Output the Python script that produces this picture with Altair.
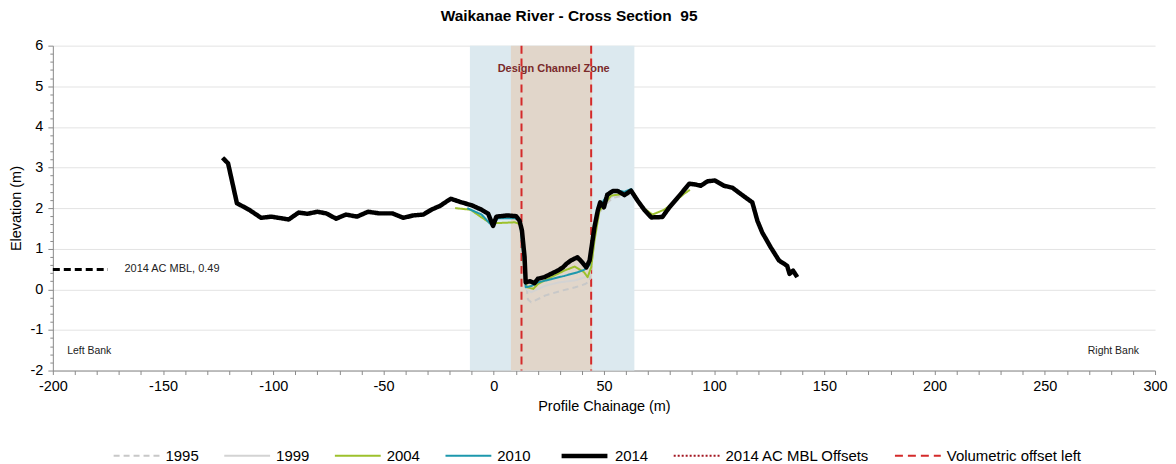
import altair as alt
import pandas as pd

FONT = "Liberation Sans"

# ---------------- data ----------------
series_names = ["1995", "1999", "2004", "2010", "2014",
                "2014 AC MBL Offsets", "Volumetric offset left"]
series_colors = ["#c8c8c8", "#d3d3d3", "#9dc12c", "#1d98ad", "#000000",
                 "#a31621", "#d42a2a"]
series_dash = [[6, 4], [1, 0], [1, 0], [1, 0], [1, 0], [2, 2], [8, 5]]
series_width = [2, 2, 2, 2, 4.5, 2, 2]

x1995 = [12.5, 14, 15.5, 17, 23.5, 31, 37, 41.5, 43.5, 45, 47, 50, 54, 58, 62]
y1995 = [1.5, 0.6, -0.25, -0.32, -0.15, -0.03, 0.05, 0.13, 0.2, 0.9, 1.8, 2.05, 2.25, 2.3, 2.35]

x1999 = [12.5, 14, 15, 17, 23.5, 29.5, 37, 41.5, 43.5, 45, 47, 50, 54, 58, 62]
y1999 = [1.55, 0.8, 0.0, -0.07, 0.09, 0.17, 0.22, 0.30, 0.35, 1.0, 1.85, 2.1, 2.3, 2.35, 2.38]

x2004 = [-17.5, -10.5, -5.5, -1, 1.2, 9.5, 11.7, 12.8, 13.8, 15, 18, 20, 26, 32, 36.7,
         41, 42.6, 44.2, 45.7, 48, 50.3, 53.3, 59.3, 63, 67.6, 72, 77.3, 81.8, 86.3, 89]
y2004 = [2.0, 1.96, 1.77, 1.61, 1.63, 1.65, 1.61, 1.36, 0.54, 0.05, 0.01, 0.13, 0.30, 0.46, 0.56,
         0.42, 0.30, 0.54, 1.2, 1.94, 2.10, 2.31, 2.35, 2.41, 2.02, 1.84, 1.96, 2.14, 2.35, 2.45]

x2010 = [-12, -5.5, -1, 2, 9.5, 11.7, 12.3, 13.8, 14.5, 17, 20, 26, 32, 38, 41, 43.5,
         44.6, 47.2, 50, 53.3, 56.3, 59.3, 62.3, 65.3, 68.4, 71.5, 74]
y2010 = [2.0, 1.84, 1.58, 1.75, 1.75, 1.70, 1.45, 0.6, 0.05, 0.08, 0.17, 0.25, 0.33, 0.42, 0.48, 0.6,
         1.2, 1.94, 2.2, 2.39, 2.43, 2.40, 2.47, 2.18, 1.96, 1.79, 1.79]

x2014 = [-123, -120.5, -116.5, -111, -105.5, -101, -93, -88.5, -84.5, -80, -76, -71.5, -67,
         -62, -57, -52, -46, -41, -36.5, -32, -28, -24.5, -19.5, -14.5, -10, -5.5, -2.5,
         -0.3, 1.2, 6.4, 10.2, 11.7, 12.8, 14.0, 14.5, 16.5, 18.5, 20, 23, 26, 29, 31.4, 33,
         35, 38, 40.5, 42, 43.5, 44.6, 45.7, 47.2, 48.3, 50, 51.5, 54, 56.3, 59.3, 62.3,
         65.3, 68.4, 71.5, 76.5, 79.7, 84.9, 88.7, 91.7, 93.9, 97, 100.3, 104.5, 108.3,
         112, 117.3, 119.6, 121.8, 125.6, 129.4, 133.1, 134.2, 135.8, 137.7]
y2014 = [3.24, 3.10, 2.12, 1.96, 1.76, 1.79, 1.72, 1.89, 1.86, 1.91, 1.87, 1.74, 1.84,
         1.79, 1.91, 1.87, 1.87, 1.76, 1.82, 1.84, 1.97, 2.05, 2.23, 2.14, 2.07, 1.96, 1.86,
         1.56, 1.79, 1.82, 1.80, 1.69, 1.45, 0.79, 0.17, 0.20, 0.15, 0.26, 0.30, 0.38, 0.46, 0.54, 0.63,
         0.71, 0.79, 0.64, 0.54, 0.71, 1.12, 1.53, 1.94, 2.14, 2.02, 2.33, 2.42, 2.42, 2.32, 2.43,
         2.18, 1.95, 1.77, 1.78, 2.02, 2.35, 2.60, 2.58, 2.55, 2.66, 2.68, 2.55, 2.50,
         2.35, 2.14, 1.69, 1.40, 1.04, 0.71, 0.58, 0.38, 0.46, 0.30]

offset_x = [12.6, 44.2]           # volumetric offsets (red dashed)
band_outer = [-10.8, 63.8]        # light blue zone
band_inner = [7.8, 44.6]          # design channel zone (tan)
zone_label = ["Design Channel Zone"]
zone_label_pos = [27.2, 5.42]

mbl_x = [-200, -175]
mbl_y = [0.49, 0.49]
mbl_label = ["2014 AC MBL, 0.49"]
mbl_label_x = [-167.5]

bank_labels = ["Left Bank", "Right Bank"]
bank_x = [-193.5, 269.5]
bank_y = [-1.52, -1.52]

x_ticks = list(range(-200, 301, 10))
y_ticks = [round(-2 + 0.2 * i, 1) for i in range(41)]

# ---------------- tables ----------------
rows = []
for name, xs, ys in [("1995", x1995, y1995), ("1999", x1999, y1999),
                     ("2004", x2004, y2004), ("2010", x2010, y2010),
                     ("2014", x2014, y2014)]:
    for i, (a, b) in enumerate(zip(xs, ys)):
        rows.append({"series": name, "x": a, "y": b, "i": i})
profiles = pd.DataFrame(rows)

offsets = pd.DataFrame({"x": offset_x, "series": ["Volumetric offset left"] * len(offset_x)})
outer = pd.DataFrame({"x": [band_outer[0]], "x2": [band_outer[1]]})
inner = pd.DataFrame({"x": [band_inner[0]], "x2": [band_inner[1]]})
zone = pd.DataFrame({"t": zone_label, "x": [zone_label_pos[0]], "y": [zone_label_pos[1]]})
mbl = pd.DataFrame({"x": mbl_x, "y": mbl_y})
mbl_txt = pd.DataFrame({"t": mbl_label, "x": mbl_label_x, "y": [mbl_y[0]]})
banks = pd.DataFrame({"t": bank_labels, "x": bank_x, "y": bank_y})

# ---------------- scales / axes ----------------
int_test = "abs(datum.value - round(datum.value)) < 0.001"
xscale = alt.Scale(domain=[-200, 300], nice=False, zero=False)
yscale = alt.Scale(domain=[-2, 6], nice=False, zero=False)

xaxis = alt.Axis(values=x_ticks,
                 labelExpr="datum.value % 50 == 0 ? toString(datum.value) : ''",
                 title="Profile Chainage (m)", grid=False, tickSize=4,
                 labelFontSize=14.5, labelFont=FONT, labelColor="#000", labelPadding=5,
                 titleFontSize=14.5, titleFont=FONT, titleFontWeight="normal",
                 titleColor="#000", titlePadding=7, labelFlush=False, labelOverlap=False)
yaxis = alt.Axis(values=y_ticks,
                 labelExpr=int_test + " ? toString(round(datum.value)) : ''",
                 title="Elevation (m)", grid=True,
                 gridOpacity={"condition": {"test": int_test, "value": 1}, "value": 0},
                 tickSize={"condition": {"test": int_test, "value": 5}, "value": 3},
                 gridColor="#e3e3e3", labelFontSize=14.5, labelFont=FONT, labelColor="#000",
                 labelPadding=5, titleFontSize=14.5, titleFont=FONT, titleFontWeight="normal",
                 titleColor="#000", titlePadding=7, labelFlush=False, labelOverlap=False)

X = alt.X("x:Q", scale=xscale, axis=xaxis)
X2 = alt.X2("x2:Q")
Y = alt.Y("y:Q", scale=yscale, axis=yaxis)

legend = alt.Legend(orient="none", legendX=60, legendY=386, direction="horizontal",
                    title=None, symbolType="stroke", symbolSize=2116,
                    labelFontSize=15, labelFont=FONT, labelColor="#000",
                    columnPadding=21, labelOffset=5)

color_enc = alt.Color("series:N", scale=alt.Scale(domain=series_names, range=series_colors),
                      legend=legend)
dash_enc = alt.StrokeDash("series:N", scale=alt.Scale(domain=series_names, range=series_dash),
                          legend=legend)
width_enc = alt.StrokeWidth("series:N", scale=alt.Scale(type="ordinal", domain=series_names,
                                                        range=series_width),
                            legend=legend)

# ---------------- layers ----------------
outer_layer = alt.Chart(outer).mark_rect(color="#dce9ef").encode(x=X, x2=X2)
inner_layer = alt.Chart(inner).mark_rect(color="#e1d6ca").encode(x=X, x2=X2)

zone_text = alt.Chart(zone).mark_text(font=FONT, fontSize=11, fontWeight="bold",
                                      color="#7a2a2a", baseline="middle").encode(
    x=X, y=Y, text="t:N")

lines = alt.Chart(profiles).mark_line(strokeJoin="round", strokeCap="butt").encode(
    x=X, y=Y, order="i:Q",
    color=color_enc, strokeDash=dash_enc, strokeWidth=width_enc,
)

rules = alt.Chart(offsets).mark_rule().encode(
    x=X, color=color_enc, strokeDash=dash_enc, strokeWidth=width_enc,
)

mbl_line = alt.Chart(mbl).mark_line(color="#000", strokeWidth=3, strokeDash=[7, 4]).encode(
    x=X, y=Y)

mbl_text = alt.Chart(mbl_txt).mark_text(font=FONT, fontSize=11, color="#222", align="left",
                                        baseline="middle").encode(x=X, y=Y, text="t:N")

bank_text = alt.Chart(banks).mark_text(font=FONT, fontSize=10.5, color="#222", align="left",
                                       baseline="middle").encode(x=X, y=Y, text="t:N")

chart = alt.layer(outer_layer, inner_layer, zone_text, rules, lines, mbl_line, mbl_text,
                  bank_text).properties(
    width=1106, height=326,
    title=alt.TitleParams("Waikanae River - Cross Section\u00a0\u00a095", font=FONT,
                          fontSize=15.5, fontWeight="bold", color="#000", anchor="middle",
                          dx=-35, offset=13),
    autosize=alt.AutoSizeParams(type="none"),
    padding={"left": 45, "top": 37, "right": 13, "bottom": 93},
).configure_view(stroke=None).configure_axis(
    domainColor="#8a8a8a", tickColor="#8a8a8a", labelOverlap=False
)

chart.save("out.html", embed_options={"renderer": "svg", "actions": False})
